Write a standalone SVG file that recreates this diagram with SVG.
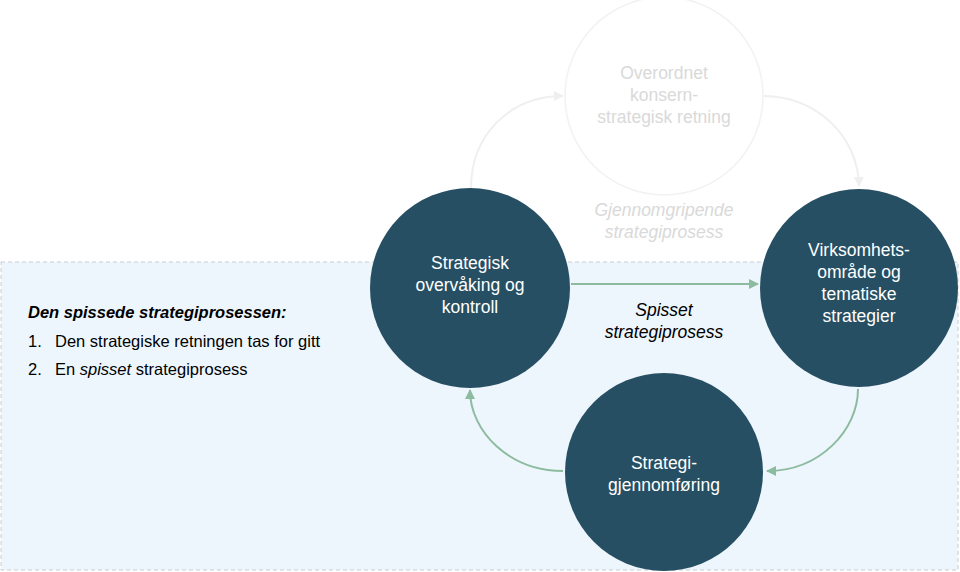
<svg xmlns="http://www.w3.org/2000/svg" width="960" height="572" viewBox="0 0 960 572">
<defs>
<marker id="ag" viewBox="0 0 10 10" refX="9" refY="5" markerWidth="5" markerHeight="5" orient="auto"><path d="M0,0 L10,5 L0,10 z" fill="#8DBBA0"/></marker>
<marker id="af" viewBox="0 0 10 10" refX="9" refY="5" markerWidth="5" markerHeight="5" orient="auto"><path d="M0,0 L10,5 L0,10 z" fill="#EFEFEF"/></marker>
<style>
.n{fill:#264F63}
.t{font-family:"Liberation Sans",Arial,sans-serif;font-size:17.5px;text-anchor:middle}
.w{fill:#FFFFFF}
.c{fill:none;stroke:#8DBBA0;stroke-width:2;marker-end:url(#ag)}
.f{fill:none;stroke:#EFEFEF;stroke-width:2;marker-end:url(#af)}
.l{font-family:"Liberation Sans",Arial,sans-serif;font-size:16.5px;fill:#000}
</style>
</defs>
<rect x="1" y="262" width="957" height="308" fill="#EEF6FD" stroke="#C8CCD0" stroke-width="1" stroke-dasharray="4,3"/>
<g id="connectors">
<path class="f" d="M471,188 C471,135 510,96 563,96"/>
<path class="f" d="M764,96 C815,96 858,135 859,186"/>
<path class="c" d="M571,284 L758,284"/>
<path class="c" d="M858,389 C858,430 820,471 767,471"/>
<path class="c" d="M563,471 C510,471 470,432 470,390"/>
</g>
<g id="top">
<circle cx="664" cy="96" r="99" fill="#FFFFFF" stroke="#F2F2F2" stroke-width="1.5"/>
<text class="t" fill="#D9D9D9"><tspan x="664" y="79">Overordnet</tspan><tspan x="664" y="101">konsern-</tspan><tspan x="664" y="123">strategisk retning</tspan></text>
</g>
<g id="gjennom-label">
<text class="t" fill="#D9D9D9" font-style="italic"><tspan x="664" y="216">Gjennomgripende</tspan><tspan x="664" y="238">strategiprosess</tspan></text>
</g>
<g id="left">
<circle class="n" cx="470" cy="288" r="100"/>
<text class="t w"><tspan x="470" y="269">Strategisk</tspan><tspan x="470" y="291">overvåking og</tspan><tspan x="470" y="313">kontroll</tspan></text>
</g>
<g id="right">
<circle class="n" cx="859" cy="288" r="99"/>
<text class="t w"><tspan x="859" y="256">Virksomhets-</tspan><tspan x="859" y="278">område og</tspan><tspan x="859" y="300">tematiske</tspan><tspan x="859" y="322">strategier</tspan></text>
</g>
<g id="bottom">
<circle class="n" cx="664" cy="472" r="99"/>
<text class="t w"><tspan x="664" y="469">Strategi-</tspan><tspan x="664" y="491">gjennomføring</tspan></text>
</g>
<g id="spisset-label">
<text class="t" fill="#000" font-style="italic"><tspan x="664" y="316">Spisset</tspan><tspan x="664" y="338">strategiprosess</tspan></text>
</g>
<g id="legend">
<text class="l" x="28" y="318" font-weight="bold" font-style="italic">Den spissede strategiprosessen:</text>
<text class="l" x="28" y="347">1.</text>
<text class="l" x="55" y="347">Den strategiske retningen tas for gitt</text>
<text class="l" x="28" y="375">2.</text>
<text class="l" x="55" y="375">En <tspan font-style="italic">spisset</tspan> strategiprosess</text>
</g>
</svg>
